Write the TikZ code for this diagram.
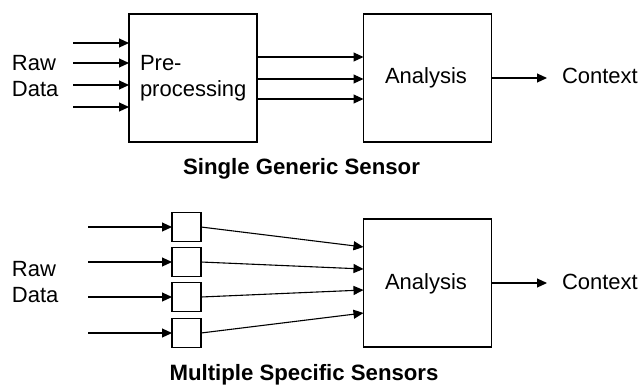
\documentclass[tikz,border=0pt]{standalone}
\usepackage{fontspec}
\setmainfont{Liberation Sans}
\usetikzlibrary{arrows.meta,calc}
\begin{document}
\begin{tikzpicture}[x=1pt,y=-1pt,
  every node/.style={inner sep=0pt,outer sep=0pt,font=\fontsize{22}{26}\selectfont},
  box/.style={draw,line width=1.1pt,minimum width=128pt,minimum height=128pt},
  sbox/.style={draw,line width=1.1pt,minimum width=29pt,minimum height=29pt},
  arr/.style={line width=1.1pt,-{Triangle[length=10pt,width=9pt]}},
  ttl/.style={font=\fontsize{22.2}{26}\selectfont\bfseries,anchor=base}]
\useasboundingbox (0,0) rectangle (639,386);
% ---------- top: single generic sensor
\node[box] (pre) at (193,78) {};
\node[box] (an1) at (427.5,78) {};
\node[anchor=base west] (raw1) at (12,70.5) {Raw};
\node[anchor=base west] (data1) at (12,96) {Data};
\node[anchor=base west] (pret) at (140,70.5) {Pre-};
\node[anchor=base west] (proc) at (140,96) {processing};
\node[anchor=base] (ant1) at (426,83.5) {Analysis};
\node[anchor=base west] (ctx1) at (562,83.5) {Context};
\node[ttl] (title1) at (301.5,174) {Single Generic Sensor};
\foreach \i/\y in {1/43,2/63,3/85,4/107}{
  \coordinate (in\i) at (73,\y);
  \draw[arr] (in\i) -- (in\i -| pre.west);
}
\foreach \d in {-21,1,21}{
  \draw[arr] ([yshift=-\d pt]pre.east) -- ([yshift=-\d pt]an1.west);
}
\coordinate (out1) at (547,78);
\draw[arr] (an1.east) -- (out1);
% ---------- bottom: multiple specific sensors
\node[box] (an2) at (427.5,283) {};
\node[anchor=base west] (raw2) at (12,276) {Raw};
\node[anchor=base west] (data2) at (12,302) {Data};
\node[anchor=base] (ant2) at (426,289.5) {Analysis};
\node[anchor=base west] (ctx2) at (562,289.5) {Context};
\node[ttl] (title2) at (304,380) {Multiple Specific Sensors};
\foreach \i/\y/\t in {1/227/247,2/262/269,3/297/290,4/333/313}{
  \node[sbox] (s\i) at (186.5,\y) {};
  \coordinate (bin\i) at (88,\y);
  \draw[arr] (bin\i) -- (s\i.west);
  \draw[arr] (s\i.east) -- (an2.west |- 0,\t);
}
\coordinate (out2) at (547,283);
\draw[arr] (an2.east) -- (out2);
\end{tikzpicture}
\end{document}
